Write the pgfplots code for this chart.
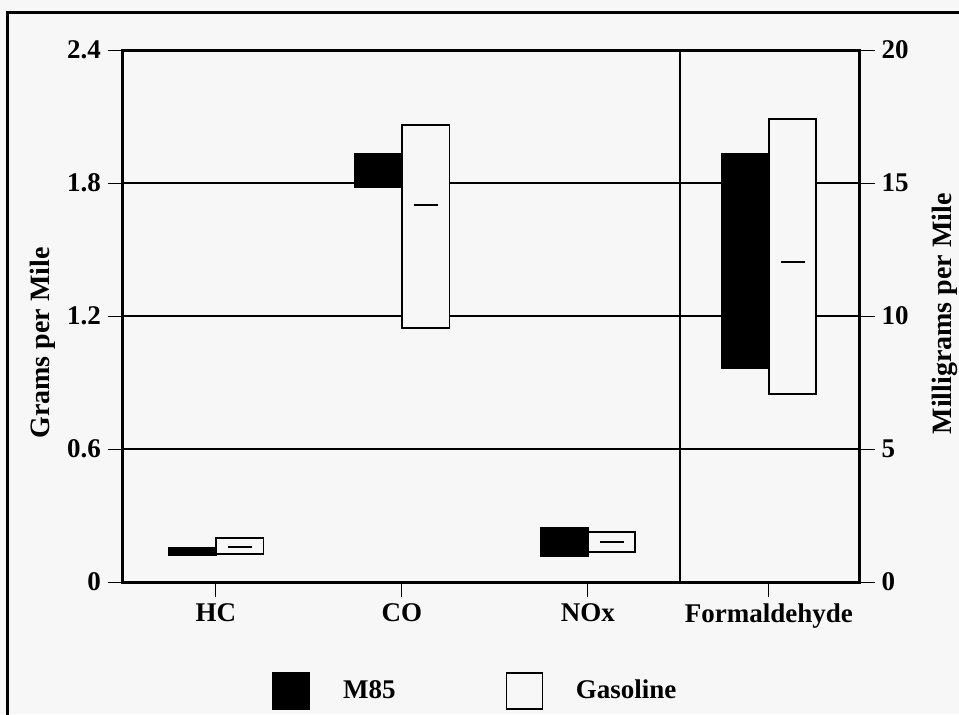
\documentclass[border=0pt]{standalone}
\usepackage{fontspec}
\setmainfont{Liberation Serif}
\usepackage{pgfplots}
\pgfplotsset{compat=1.18}
\usepgfplotslibrary{statistics}
\definecolor{bg}{HTML}{F7F7F7}

\begin{document}
\begin{tikzpicture}
\fill[bg] (-61.5pt,-66pt) rectangle (418pt,291pt);
\pgfplotsset{
  common/.style={
    scale only axis, width=368.25pt, height=266pt,
    at={(0pt,0pt)}, anchor=south west,
    xmin=-0.5, xmax=3.46,
    tick align=outside, major tick length=7.5pt,
    tick style={line width=0.5pt, black},
    axis line style={line width=1.5pt},
    /pgf/number format/assume math mode=true,
    ticklabel style={font=\fontsize{13.5}{16}\selectfont\bfseries},
    label style={font=\fontsize{14}{16}\selectfont\bfseries},
    boxplot/draw direction=y,
    boxplot/draw/median/.code={\draw[/pgfplots/boxplot/every median/.try] (boxplot box cs:\pgfplotsboxplotvalue{median},0.25) -- (boxplot box cs:\pgfplotsboxplotvalue{median},0.75);},
    boxplot/every median/.style={line width=1.2pt},
    m85/.style={draw=black, fill=black, line width=0.9pt, forget plot},
    gas/.style={draw=black, fill=bg, line width=0.9pt, forget plot},
  }
}
\begin{axis}[common,
  ymin=0, ymax=2.4, ytick={0,0.6,1.2,1.8,2.4}, ytick pos=left,
  xtick={0,1,2,2.973}, xticklabels={HC,CO,NOx,Formaldehyde}, xtick pos=left,
  ymajorgrids, grid style={line width=0.6pt, black},
  ylabel={Grams per Mile},
  ylabel style={at={(axis description cs:-0.1086,0.449)}, anchor=center},
  legend columns=2,
  legend style={draw=none, fill=none, at={(axis description cs:0.2023,-0.2049)}, anchor=west, inner sep=0pt,
    font=\fontsize{13.5}{16}\selectfont\bfseries,
    /tikz/every odd column/.append style={column sep=14.5pt},
    /tikz/every even column/.append style={column sep=53pt}},
]
\addlegendimage{legend image code/.code={\draw[fill=black,draw=black,line width=0.9pt] (0pt,-9pt) rectangle (18pt,9pt);}}
\addlegendentry{M85}
\addlegendimage{legend image code/.code={\draw[fill=bg,draw=black,line width=0.6pt] (0pt,-9pt) rectangle (18pt,9pt);}}
\addlegendentry{Gasoline}
% HC
\addplot[m85, boxplot prepared={draw position=-0.1275, box extend=0.255, whisker extend=0,
  lower whisker=0.12, lower quartile=0.12, median=0.137, upper quartile=0.155, upper whisker=0.155}] coordinates {};
\addplot[gas, boxplot prepared={draw position=0.1275, box extend=0.255, whisker extend=0,
  lower whisker=0.126, lower quartile=0.126, median=0.157, upper quartile=0.197, upper whisker=0.197}] coordinates {};
% CO
\addplot[m85, boxplot prepared={draw position=0.8725, box extend=0.255, whisker extend=0,
  lower whisker=1.78, lower quartile=1.78, median=1.85, upper quartile=1.93, upper whisker=1.93}] coordinates {};
\addplot[gas, boxplot prepared={draw position=1.1275, box extend=0.255, whisker extend=0,
  lower whisker=1.146, lower quartile=1.146, median=1.70, upper quartile=2.06, upper whisker=2.06}] coordinates {};
% NOx
\addplot[m85, boxplot prepared={draw position=1.8725, box extend=0.255, whisker extend=0,
  lower whisker=0.117, lower quartile=0.117, median=0.18, upper quartile=0.245, upper whisker=0.245}] coordinates {};
\addplot[gas, boxplot prepared={draw position=2.1275, box extend=0.255, whisker extend=0,
  lower whisker=0.137, lower quartile=0.137, median=0.180, upper quartile=0.227, upper whisker=0.227}] coordinates {};
% separator
\addplot[line width=1pt, black, forget plot] coordinates {(2.495,0) (2.495,2.4)};
\end{axis}
\begin{axis}[common,
  ymin=0, ymax=20, ytick={0,5,10,15,20},
  axis y line*=right, axis x line=none,
  ylabel={Milligrams per Mile},
  ylabel style={at={(axis description cs:1.1154,0.504)}, anchor=center},
]
\addplot[m85, boxplot prepared={draw position=2.8455, box extend=0.255, whisker extend=0,
  lower whisker=8.05, lower quartile=8.05, median=12, upper quartile=16.09, upper whisker=16.09}] coordinates {};
\addplot[gas, boxplot prepared={draw position=3.1005, box extend=0.255, whisker extend=0,
  lower whisker=7.07, lower quartile=7.07, median=12.03, upper quartile=17.4, upper whisker=17.4}] coordinates {};
\end{axis}
\draw[line width=1.5pt] (-57.5pt,-80pt) -- (-57.5pt,285pt) -- (430pt,285pt);
\pgfresetboundingbox
\useasboundingbox (-61.5pt,-66pt) rectangle (418pt,291pt);
\end{tikzpicture}
\end{document}
